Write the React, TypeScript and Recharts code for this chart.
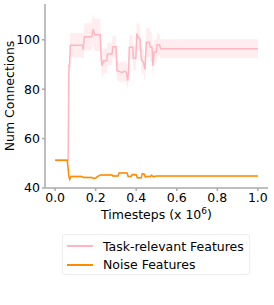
import React from 'react';
import { ComposedChart, Line, Area, XAxis, YAxis, CartesianGrid, Legend } from 'recharts';

const xTicks = [0, 0.2, 0.4, 0.6, 0.8, 1.0];
const yTicks = [40, 60, 80, 100];

const taskX = [0, 0.06, 0.064, 0.068, 0.071, 0.075, 0.135, 0.138, 0.144, 0.18, 0.188, 0.195, 0.222, 0.228, 0.232, 0.238, 0.255, 0.258, 0.28, 0.285, 0.3, 0.305, 0.33, 0.345, 0.352, 0.358, 0.362, 0.366, 0.383, 0.386, 0.398, 0.403, 0.41, 0.418, 0.425, 0.435, 0.443, 0.45, 0.465, 0.47, 0.478, 0.482, 0.488, 0.498, 0.503, 0.515, 0.52, 1.0];
const taskMean = [51.2, 51.2, 51.2, 90, 89, 97.8, 97.8, 96, 101.2, 101.2, 104.3, 102, 102, 91.5, 89.5, 91.5, 91.5, 94.3, 94.3, 97.2, 97.2, 87.5, 86.8, 87.3, 86.5, 83.5, 87, 97, 97, 92.5, 92.5, 102.5, 101, 100.5, 92, 91, 88, 99, 99, 97, 97, 89.5, 95, 95, 98, 98, 96.4, 96.4];
const taskSpread = [0.5, 0.5, 0.5, 4, 5, 5, 5, 5, 5.5, 5.5, 6, 6.5, 6.5, 5, 5.5, 5, 5, 4.5, 4.5, 4.5, 4.5, 4, 4, 4, 4, 4, 4, 5, 5, 5, 5, 5, 5.5, 5, 5, 5, 5, 6, 6, 6, 6, 5, 5, 5, 5, 4, 3.8, 3.8];

const noiseX = [0, 0.06, 0.068, 0.072, 0.078, 0.13, 0.14, 0.18, 0.19, 0.2, 0.21, 0.225, 0.28, 0.285, 0.31, 0.315, 0.355, 0.36, 0.375, 0.38, 0.4, 0.405, 0.425, 0.43, 0.44, 0.445, 0.455, 0.47, 0.475, 0.485, 0.5, 1.0];
const noiseMean = [51.2, 51.2, 44.5, 43.5, 44.7, 44.7, 44.3, 44.3, 43.9, 44.0, 44.7, 45.3, 45.3, 44.9, 44.9, 46.1, 46.1, 44.7, 44.7, 45.5, 45.4, 44.1, 44.1, 45.8, 45.6, 44.4, 44.7, 44.7, 45.2, 44.6, 44.9, 44.9];
const noiseSpread = [0.3, 0.3, 0.5, 0.5, 0.4, 0.4, 0.4, 0.4, 0.4, 0.4, 0.4, 0.4, 0.4, 0.4, 0.4, 0.4, 0.4, 0.4, 0.4, 0.4, 0.4, 0.4, 0.4, 0.4, 0.4, 0.4, 0.4, 0.4, 0.4, 0.4, 0.3, 0.3];

const taskData = taskX.map((x, i) => ({ x, mean: taskMean[i], band: [taskMean[i] - taskSpread[i], taskMean[i] + taskSpread[i]] }));
const noiseData = noiseX.map((x, i) => ({ x, mean: noiseMean[i], band: [noiseMean[i] - noiseSpread[i], noiseMean[i] + noiseSpread[i]] }));

const PINK = '#FFB6C1';
const ORANGE = '#FF8C00';
const FONT = 'DejaVu Sans, sans-serif';

const XLabel = (props: any) => {
  const vb = props.viewBox || {};
  const cx = vb.x + vb.width / 2;
  return (
    <text x={cx} y={219} textAnchor="middle" fontSize={12.5} fontFamily={FONT} fill="#000">
      Timesteps (x 10<tspan dy={-5} fontSize={9}>6</tspan><tspan dy={5}>)</tspan>
    </text>
  );
};

const YLabel = (props: any) => {
  const vb = props.viewBox || {};
  const cy = vb.y + vb.height / 2;
  return (
    <text x={14} y={cy} transform={`rotate(-90, 14, ${cy})`} textAnchor="middle" fontSize={12.5} fontFamily={FONT} fill="#000">
      Num Connections
    </text>
  );
};

const LegendContent = () => (
  <div style={{ width: 188, height: 41, border: '1px solid #eee', borderRadius: 3, background: '#fff', fontFamily: FONT, fontSize: 12.5, color: '#000', boxSizing: 'border-box', paddingTop: 2 }}>
    <div style={{ display: 'flex', alignItems: 'center', height: 18 }}>
      <div style={{ width: 26, height: 0, borderTop: `2px solid ${PINK}`, marginLeft: 4, marginRight: 10 }} />
      <span>Task-relevant Features</span>
    </div>
    <div style={{ display: 'flex', alignItems: 'center', height: 19 }}>
      <div style={{ width: 26, height: 0, borderTop: `2px solid ${ORANGE}`, marginLeft: 4, marginRight: 10 }} />
      <span>Noise Features</span>
    </div>
  </div>
);

export default function App() {
  return (
    <div style={{ position: 'absolute', left: 0, top: 0, width: 274, height: 305, background: '#fff' }}>
      <ComposedChart width={274} height={305} margin={{ top: 4, right: 6, left: 0, bottom: 0 }}>
        <CartesianGrid stroke="#e0e0e0" strokeWidth={1} horizontalValues={yTicks} verticalValues={xTicks} />
        <XAxis
          xAxisId="b"
          type="number"
          dataKey="x"
          domain={[-0.05, 1.05]}
          ticks={xTicks}
          tickFormatter={(v: number) => v.toFixed(1)}
          allowDataOverflow
          height={117}
          tickSize={3}
          tickMargin={2}
          stroke="#aaa"
          strokeWidth={1.5}
          tick={{ fill: '#000', fontSize: 12.5, fontFamily: FONT }}
          label={<XLabel />}
        />
        <XAxis xAxisId="t" orientation="top" type="number" dataKey="x" domain={[-0.05, 1.05]} allowDataOverflow height={0} tick={false} tickLine={false} stroke="#888" strokeWidth={1.5} />
        <YAxis
          yAxisId="l"
          type="number"
          domain={[40, 114.5]}
          ticks={yTicks}
          allowDataOverflow
          width={45}
          tickSize={3}
          tickMargin={2}
          stroke="#aaa"
          strokeWidth={1.5}
          tick={{ fill: '#000', fontSize: 12.5, fontFamily: FONT }}
          label={<YLabel />}
        />
        <YAxis yAxisId="r" orientation="right" type="number" domain={[40, 114.5]} allowDataOverflow width={0} tick={false} tickLine={false} stroke="#aaa" strokeWidth={1.5} />
        <Area xAxisId="b" yAxisId="l" data={taskData} dataKey="band" type="linear" stroke="none" fill={PINK} fillOpacity={0.25} isAnimationActive={false} legendType="none" />
        <Area xAxisId="b" yAxisId="l" data={noiseData} dataKey="band" type="linear" stroke="none" fill={ORANGE} fillOpacity={0.3} isAnimationActive={false} legendType="none" />
        <Line xAxisId="b" yAxisId="l" data={taskData} dataKey="mean" name="Task-relevant Features" type="linear" stroke={PINK} strokeWidth={1.5} dot={false} isAnimationActive={false} />
        <Line xAxisId="b" yAxisId="l" data={noiseData} dataKey="mean" name="Noise Features" type="linear" stroke={ORANGE} strokeWidth={1.5} dot={false} isAnimationActive={false} />
        <Legend layout="vertical" align="center" verticalAlign="middle" content={<LegendContent />} wrapperStyle={{ position: 'absolute', left: 62, top: 234, width: 188 }} />
      </ComposedChart>
    </div>
  );
}
